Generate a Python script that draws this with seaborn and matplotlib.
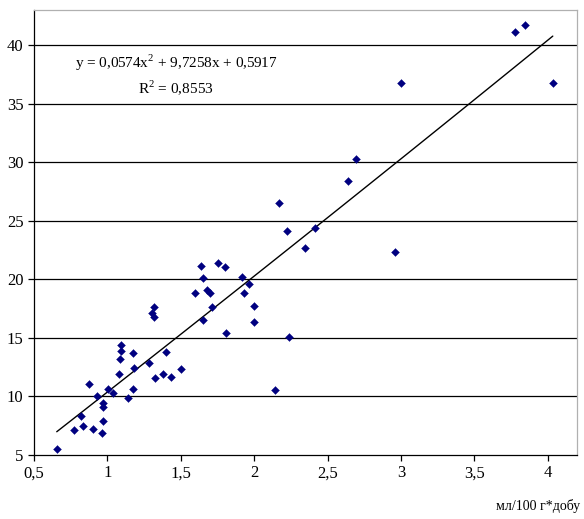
import numpy as np
import pandas as pd
import matplotlib
matplotlib.use("Agg")
import matplotlib.pyplot as plt
import seaborn as sns

x_vals = [0.655, 0.772, 0.832, 0.818, 0.872, 0.900, 0.927, 0.963, 0.968, 0.968,
          0.968, 1.002, 1.036, 1.079, 1.086, 1.090, 1.090, 1.140, 1.174, 1.181,
          1.174, 1.283, 1.304, 1.317, 1.317, 1.322, 1.381, 1.399, 1.431, 1.499,
          1.599, 1.638, 1.651, 1.651, 1.678, 1.699, 1.715, 1.753, 1.803, 1.806,
          1.919, 1.933, 1.965, 2.001, 2.001, 2.140, 2.239, 2.169, 2.221, 2.414,
          2.344, 2.961, 2.641, 2.691, 2.998, 3.779, 3.849, 4.035]
y_vals = [5.49, 7.13, 7.48, 8.33, 11.06, 7.19, 10.07, 6.85, 7.93, 9.13,
          9.47, 10.60, 10.26, 11.91, 13.20, 13.85, 14.36, 9.84, 10.66, 12.45,
          13.68, 12.85, 17.15, 16.80, 17.60, 11.57, 11.91, 13.79, 11.66, 12.34,
          18.80, 21.13, 20.14, 16.50, 19.09, 18.80, 17.66, 21.36, 21.08, 15.39,
          20.22, 18.80, 19.62, 17.75, 16.33, 10.52, 15.05, 26.49, 24.15, 24.35,
          22.70, 22.36, 28.42, 30.30, 36.78, 41.08, 41.73, 36.78]

# polynomial trend coefficients from the chart label
trend_coef = [0.0574, 9.7258, 0.5917]
trend_label = "y = 0,0574x$^2$ + 9,7258x + 0,5917"
r2_label = "R$^2$ = 0,8553"

x_ticks = [0.5, 1, 1.5, 2, 2.5, 3, 3.5, 4]
x_tick_labels = ["0,5", "1", "1,5", "2", "2,5", "3", "3,5", "4"]
y_ticks = [5, 10, 15, 20, 25, 30, 35, 40]

df = pd.DataFrame({"x": x_vals, "y": y_vals})
xs = np.linspace(min(x_vals), max(x_vals), 100)
trend = pd.DataFrame({"x": xs, "y": np.polyval(trend_coef, xs)})

sns.set_style("white")
plt.rcParams["font.family"] = ["Liberation Serif", "DejaVu Serif"]
plt.rcParams["mathtext.fontset"] = "custom"
plt.rcParams["mathtext.rm"] = "Liberation Serif"
plt.rcParams["text.color"] = "black"

fig = plt.figure(figsize=(5.84, 5.19), dpi=100)
ax = fig.add_axes([34 / 584, 1 - 455 / 519, (577 - 34) / 584, (455 - 10) / 519])

# horizontal grid lines like the spreadsheet chart
for yt in y_ticks[1:]:
    ax.axhline(yt, color="black", lw=0.9, zorder=1)

sns.lineplot(data=trend, x="x", y="y", color="black", lw=1.0, ax=ax, zorder=2)
sns.scatterplot(data=df, x="x", y="y", marker="D", s=16, color="#000080",
                edgecolor="#000080", linewidth=0.3, ax=ax, zorder=3)

ax.set_xlim(0.5, 4.2)
ax.set_ylim(5, 43)
ax.set_xticks(x_ticks)
ax.set_xticklabels(x_tick_labels)
ax.set_yticks(y_ticks)
ax.tick_params(axis="both", direction="out", length=4, width=0.9, labelsize=12,
               colors="black", bottom=True, left=True)
ax.set_xlabel("")
ax.set_ylabel("")

for side in ["top", "right"]:
    ax.spines[side].set_color("#b0b0b0")
for side in ["left", "bottom"]:
    ax.spines[side].set_color("black")
for sp in ax.spines.values():
    sp.set_linewidth(0.9)

ax.text(1.47, 38.5, trend_label, ha="center", va="center", fontsize=11, color="black")
ax.text(1.47, 36.4, r2_label, ha="center", va="center", fontsize=11, color="black")

fig.text(580 / 584, 1 - 506 / 519, "мл/100 г*добу", ha="right", va="center",
         fontsize=10, color="black")

fig.savefig("out.png", dpi=100)
